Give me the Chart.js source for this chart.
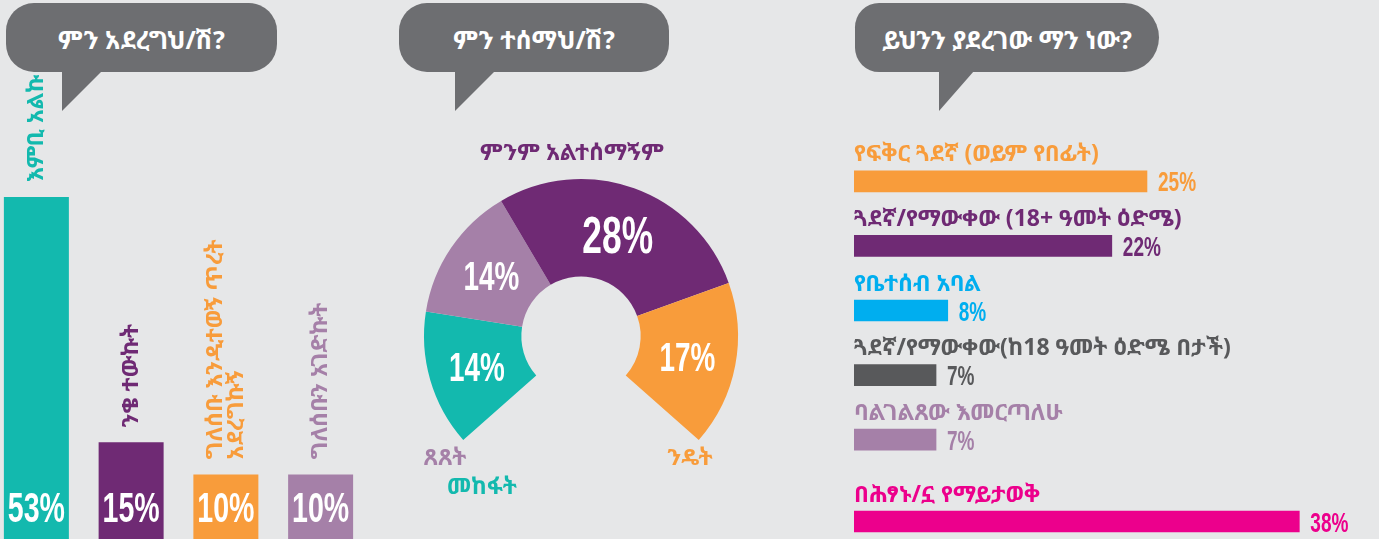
<!DOCTYPE html>
<html><head><meta charset="utf-8">
<script src="https://cdn.jsdelivr.net/npm/chart.js@4.4.0/dist/chart.umd.min.js"></script>
<style>
html,body{margin:0;padding:0;background:#e6e7e8;width:1379px;height:539px;overflow:hidden;position:relative;font-family:"Noto Sans Ethiopic","Noto Sans",sans-serif;}
canvas{position:absolute;}
.bubble{position:absolute;top:3px;height:69px;background:#6d6e71;border-radius:28px;color:#fff;font-weight:bold;font-size:25px;display:flex;align-items:center;justify-content:center;padding-top:3px;box-sizing:border-box;}
.tail{position:absolute;top:71px;height:40px;background:#6d6e71;clip-path:polygon(0 0,100% 0,0 100%);}
</style></head>
<body>
<div class="bubble" style="left:6px;width:271px">ምን አደረግህ/ሽ?</div>
<div class="tail" style="left:62px;width:40px"></div>
<div class="bubble" style="left:399px;width:270px">ምን ተሰማህ/ሽ?</div>
<div class="tail" style="left:455px;width:40px"></div>
<div class="bubble" style="left:855px;width:304px;border-radius:28px 40px 40px 28px">ይህንን ያደረገው ማን ነው?</div>
<div class="tail" style="left:939px;width:35px"></div>

<canvas id="c1" width="379" height="539" style="left:-11px;top:0"></canvas>
<canvas id="c2" width="400" height="439" style="left:390px;top:100px"></canvas>
<canvas id="c3" width="525" height="372" style="left:854px;top:100px"></canvas>
<canvas id="c4" width="525" height="69" style="left:854px;top:470px"></canvas>

<script>
// ---- data ----
const actionLabels = [["እምቢ አልኩ"], ["ንቄ ተውኩት"], ["ግለሰቡ እንዲተወኝ ጥረት", "አደረግኩኝ"], ["ግለሰቡን አገድኩት"]];
const actionValues = [53, 15, 10, 10];

const feelingLabels = ["መከፋት", "ጸጸት", "ምንም አልተሰማኝም", "ንዴት"];
const feelingValues = [14, 14, 28, 17];

const perpLabels = ["የፍቅር ጓደኛ (ወይም የበፊት)", "ጓደኛ/የማውቀው (18+ ዓመት ዕድሜ)", "የቤተሰብ አባል", "ጓደኛ/የማውቀው(ከ18 ዓመት ዕድሜ በታች)", "ባልገልጸው እመርጣለሁ"];
const perpValues = [25, 22, 8, 7, 7];

const unknownLabels = ["በሕፃኑ/ኗ የማይታወቅ"];
const unknownValues = [38];

// ---- styles ----
const C = {teal:"#13b9ae", purple:"#6f2a74", orange:"#f89c3b", lilac:"#a580a8", blue:"#00aeef", gray:"#58595b", magenta:"#ec008c"};
const actionColors = [C.teal, C.purple, C.orange, C.lilac];
const feelingColors = [C.teal, C.lilac, C.purple, C.orange];
const perpColors = [C.orange, C.purple, C.blue, C.gray, C.lilac];
const unknownColors = [C.magenta];
const ETH = '"Noto Sans Ethiopic","Noto Sans","DejaVu Sans",sans-serif';
const SX = 0.68;

function condensed(ctx, text, x, yBase, size, color, align) {
  ctx.save();
  ctx.font = `bold ${size}px "Liberation Sans", Arial, sans-serif`;
  ctx.fillStyle = color;
  ctx.textBaseline = 'alphabetic';
  ctx.textAlign = 'left';
  const w = ctx.measureText(text).width * SX;
  const x0 = align === 'center' ? x - w / 2 : (align === 'right' ? x - w : x);
  ctx.translate(x0, yBase);
  ctx.scale(SX, 1);
  ctx.fillText(text, 0, 0);
  ctx.restore();
}

const base = {
  responsive: false, animation: false, events: [],
  plugins: {legend: {display: false}, tooltip: {enabled: false}}
};

// ---- left: vertical bars ----
new Chart(document.getElementById('c1'), {
  type: 'bar',
  data: {labels: actionLabels, datasets: [{data: actionValues, backgroundColor: actionColors, borderWidth: 0, barPercentage: 0.686, categoryPercentage: 1}]},
  options: Object.assign({}, base, {
    layout: {padding: 0},
    scales: {x: {display: false}, y: {display: false, min: 0, max: 83.5}}
  }),
  plugins: [{
    id: 'lbl1',
    afterDatasetsDraw(chart) {
      const ctx = chart.ctx;
      const meta = chart.getDatasetMeta(0);
      meta.data.forEach((bar, i) => {
        condensed(ctx, actionValues[i] + '%', bar.x, chart.chartArea.bottom - 17, 42, '#fff', 'center');
        const lines = actionLabels[i];
        ctx.save();
        ctx.translate(bar.x, bar.y - 15);
        ctx.rotate(-Math.PI / 2);
        ctx.font = `bold 23px ${ETH}`;
        ctx.fillStyle = actionColors[i];
        ctx.textAlign = 'left';
        ctx.textBaseline = 'middle';
        lines.forEach((ln, j) => ctx.fillText(ln, 0, (j - (lines.length - 1) / 2) * 21));
        ctx.restore();
      });
    }
  }]
});

// ---- middle: partial doughnut ----
const feelTotal = feelingValues.reduce((a, b) => a + b, 0);
const feelCirc = feelTotal * 3.6;
const feelingLabelOffsets = [[-99, 151], [-136, 122], [-9, -183], [109, 122]];
new Chart(document.getElementById('c2'), {
  type: 'doughnut',
  data: {labels: feelingLabels, datasets: [{data: feelingValues, backgroundColor: feelingColors, borderWidth: 0}]},
  options: Object.assign({}, base, {
    layout: {padding: {left: 34, right: 52, top: 79, bottom: 99}},
    cutout: '38%',
    circumference: feelCirc,
    rotation: 180 + (360 - feelCirc) / 2
  }),
  plugins: [{
    id: 'lbl2',
    afterDatasetsDraw(chart) {
      const ctx = chart.ctx;
      const meta = chart.getDatasetMeta(0);
      meta.data.forEach((arc, i) => {
        const p = arc.getCenterPoint();
        const v = feelingValues[i];
        const size = v >= 20 ? 52 : 41;
        condensed(ctx, v + '%', p.x, p.y + size * 0.716 / 2, size, '#fff', 'center');
        ctx.save();
        ctx.font = `bold 23px ${ETH}`;
        ctx.fillStyle = feelingColors[i];
        ctx.textAlign = 'center';
        ctx.textBaseline = 'middle';
        ctx.fillText(feelingLabels[i], arc.x + feelingLabelOffsets[i][0], arc.y + feelingLabelOffsets[i][1]);
        ctx.restore();
      });
    }
  }]
});

// ---- right: horizontal bars ----
const hPlugin = (labels, values, colors) => ({
  id: 'lblh',
  afterDatasetsDraw(chart) {
    const ctx = chart.ctx;
    const meta = chart.getDatasetMeta(0);
    meta.data.forEach((bar, i) => {
      ctx.save();
      ctx.font = `bold 23px ${ETH}`;
      ctx.fillStyle = colors[i];
      ctx.textAlign = 'left';
      ctx.textBaseline = 'middle';
      ctx.fillText(labels[i], chart.chartArea.left, bar.y - 26.5);
      ctx.restore();
      condensed(ctx, values[i] + '%', bar.x + 11, bar.y + 10, 28, colors[i], 'left');
    });
  }
});
const hOptions = (padTop) => Object.assign({}, base, {
  indexAxis: 'y',
  layout: {padding: {top: padTop, left: 0, right: 0, bottom: 0}},
  scales: {x: {display: false, min: 0, max: 44.8}, y: {display: false}}
});

new Chart(document.getElementById('c3'), {
  type: 'bar',
  data: {labels: perpLabels, datasets: [{data: perpValues, backgroundColor: perpColors, borderWidth: 0, barThickness: 21}]},
  options: hOptions(49),
  plugins: [hPlugin(perpLabels, perpValues, perpColors)]
});
new Chart(document.getElementById('c4'), {
  type: 'bar',
  data: {labels: unknownLabels, datasets: [{data: unknownValues, backgroundColor: unknownColors, borderWidth: 0, barThickness: 21}]},
  options: hOptions(34),
  plugins: [hPlugin(unknownLabels, unknownValues, unknownColors)]
});
</script>
</body></html>
